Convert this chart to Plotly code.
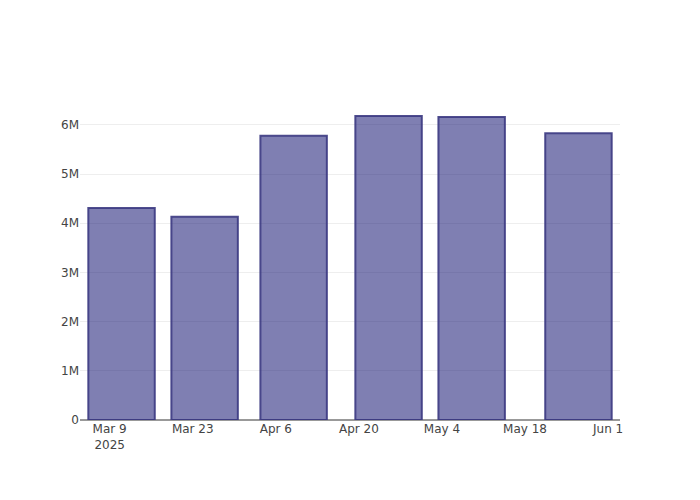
import plotly.graph_objects as go

dates = ["2025-03-11", "2025-03-25", "2025-04-09", "2025-04-25", "2025-05-09", "2025-05-27"]
values = [4310000, 4130000, 5780000, 6180000, 6160000, 5830000]

fig = go.Figure(go.Bar(
    x=dates,
    y=values,
    marker=dict(color="rgba(0,0,102,0.5)", line=dict(color="rgba(60,58,130,0.9)", width=2)),
))

fig.update_layout(
    width=700, height=500,
    margin=dict(l=72, r=88, t=92, b=88),
    plot_bgcolor="white", paper_bgcolor="white",
    font=dict(color="#444", family="DejaVu Sans", size=12),
    showlegend=False,
    xaxis=dict(showgrid=False, ticks="", type="date"),
    yaxis=dict(gridcolor="#eeeeee", zeroline=True, zerolinecolor="#999999", zerolinewidth=1.5, ticks=""),
)

fig.write_html("out.html")
